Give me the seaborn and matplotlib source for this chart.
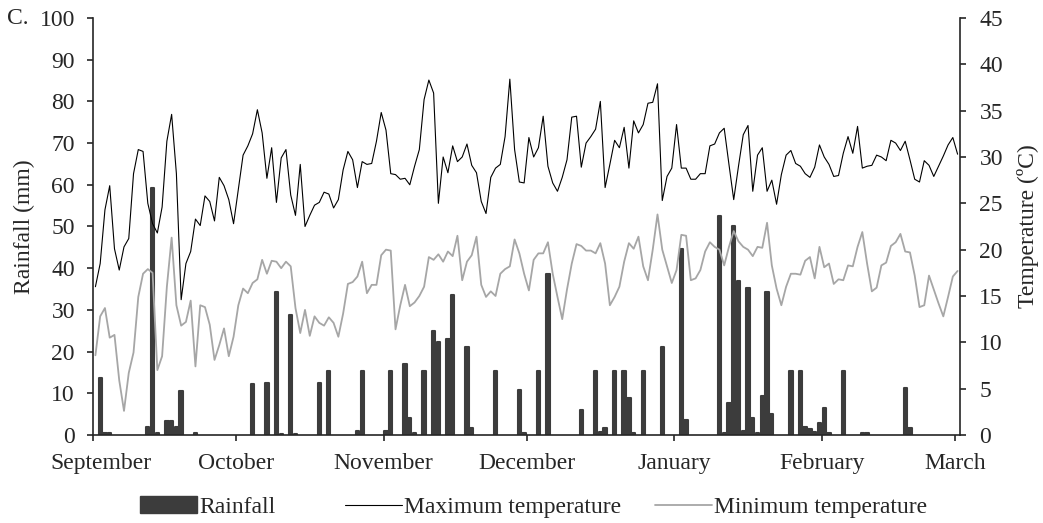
import numpy as np
import pandas as pd
import seaborn as sns
import matplotlib.pyplot as plt
import matplotlib.transforms as mtransforms
from matplotlib.patches import Patch
from matplotlib.lines import Line2D

# daily record, 1 September to 1 March
dates = pd.date_range("2018-09-01", "2019-03-01", freq="D")
month_labels = ["September", "October", "November", "December",
                "January", "February", "March"]

# maximum temperature (degC), read day by day
tmax = [16.0, 18.5, 24.3, 26.9, 20.1, 17.8, 20.3, 21.2, 28.2, 30.8,
        30.6, 25.0, 22.8, 21.8, 24.6, 31.7, 34.6, 28.2, 14.6, 18.5,
        19.8, 23.3, 22.6, 25.8, 25.2, 23.1, 27.8, 26.9, 25.4, 22.8,
        26.5, 30.2, 31.2, 32.5, 35.1, 32.6,
        27.7, 31.0, 25.1, 29.9, 30.8, 25.9, 23.7, 29.2, 22.5, 23.7,
        24.8, 25.1, 26.2, 26.0, 24.5, 25.4, 28.6, 30.6, 29.7, 26.7,
        29.5, 29.2, 29.3, 31.7, 34.8, 32.9, 28.2, 28.1, 27.6, 27.7,
        27.0, 29.0, 30.8, 36.2, 38.3, 36.9, 25.0,
        30.0, 28.3, 31.2, 29.5, 30.0, 31.4, 29.1, 28.3, 25.2, 23.9,
        27.8, 28.8, 29.2, 32.2, 38.4, 30.8, 27.3, 27.2, 32.1, 30.0,
        31.0, 34.4, 29.0, 27.2, 26.3, 27.8, 29.7, 34.3, 34.4, 28.9,
        31.5, 32.2, 33.0, 36.0, 26.7, 29.2,
        31.8, 31.0, 33.2, 28.8, 33.9, 32.6, 33.5, 35.8, 35.9, 37.9,
        25.3, 27.9, 28.8, 33.5, 28.8, 28.8, 27.6, 27.6, 28.2, 28.2,
        31.2, 31.4, 32.6, 33.1, 29.2, 25.4, 29.0, 32.4, 33.4, 26.3,
        30.2, 31.0, 26.3, 27.5, 24.9, 28.1, 30.2,
        30.7, 29.3, 29.0, 28.2, 27.8, 28.9, 31.3, 30.0, 29.2, 27.9,
        28.0, 30.4, 32.2, 30.4, 33.3, 28.8, 29.0, 29.1, 30.2, 30.0,
        29.6, 31.8, 31.5, 30.7, 31.7, 29.7, 27.6, 27.3, 29.6, 29.1,
        27.9, 29.0, 30.1, 31.3, 32.1, 30.3]

# minimum temperature (degC)
tmin = [8.6, 12.8, 13.7, 10.5, 10.8, 5.9, 2.6, 6.7, 8.9, 14.9,
        17.4, 17.9, 17.5, 7.0, 8.5, 16.0, 21.3, 14.0, 11.8, 12.2,
        14.5, 7.4, 14.0, 13.8, 11.9, 8.1, 9.7, 11.5, 8.5, 10.6,
        14.0, 15.8, 15.3, 16.4, 16.8, 18.9,
        17.4, 18.8, 18.7, 18.0, 18.7, 18.2, 13.7, 11.0, 13.5, 10.7,
        12.8, 12.1, 11.8, 12.7, 12.1, 10.6, 13.1, 16.3, 16.5, 17.1,
        18.7, 15.3, 16.2, 16.2, 19.4, 20.0, 19.9, 11.4, 14.0, 16.2,
        13.9, 14.3, 15.0, 16.0, 19.2, 18.9, 19.5,
        18.7, 19.8, 19.3, 21.5, 16.7, 18.7, 19.4, 21.4, 16.2, 14.9,
        15.5, 15.0, 17.4, 17.9, 18.2, 21.1, 19.6, 17.4, 15.6, 18.9,
        19.6, 19.6, 20.8, 17.4, 14.9, 12.5, 15.7, 18.5, 20.6, 20.4,
        19.9, 19.9, 19.6, 20.7, 18.5, 14.0,
        14.9, 16.0, 18.7, 20.7, 20.1, 21.4, 18.2, 16.7, 20.0, 23.8,
        20.0, 18.2, 16.4, 17.8, 21.6, 21.5, 16.7, 16.9, 17.8, 19.8,
        20.8, 20.3, 20.0, 18.3, 20.3, 22.0, 20.9, 20.3, 20.0, 19.3,
        20.3, 20.2, 22.9, 18.3, 15.8, 14.0, 16.0,
        17.4, 17.4, 17.3, 18.8, 19.2, 16.9, 20.3, 18.1, 18.5, 16.3,
        16.8, 16.7, 18.3, 18.2, 20.3, 21.9, 18.5, 15.5, 15.9, 18.3,
        18.6, 20.4, 20.8, 21.7, 19.8, 19.7, 17.2, 13.8, 14.0, 17.2,
        15.7, 14.2, 12.8, 14.9, 17.1, 17.7]

# rainy days (index from 1 September) and rainfall (mm)
rain_day = [1, 2, 3, 11, 12, 13, 15, 16, 17, 18, 21,
            33, 36, 38, 39, 41, 42, 47, 49, 55, 56,
            61, 62, 65, 66, 67, 69, 71, 72, 74, 75, 78, 79,
            84, 89, 90, 93, 95, 102, 105, 106, 107, 109, 111, 112, 113, 115, 119,
            123, 124, 131, 132, 133, 134, 135, 136, 137, 138, 139, 140, 141, 142,
            146, 148, 149, 150, 151, 152, 153, 154, 157, 161, 162, 170, 171]
rain_mm = [13.6, 0.4, 0.4, 1.8, 59.3, 0.4, 3.3, 3.4, 1.8, 10.5, 0.4,
           12.3, 12.4, 34.4, 0.3, 28.8, 0.3, 12.4, 15.4, 1.0, 15.4,
           1.0, 15.4, 17.0, 4.0, 0.4, 15.4, 25.0, 22.4, 22.9, 33.6, 21.2, 1.6,
           15.4, 10.8, 0.5, 15.4, 38.6, 6.1, 15.4, 0.8, 1.6, 15.4, 15.4, 8.8, 0.5, 15.4, 21.0,
           44.5, 3.6, 52.5, 0.5, 7.6, 50.2, 37.0, 1.0, 35.2, 4.0, 0.5, 9.4, 34.4, 5.0,
           15.4, 15.4, 2.0, 1.4, 0.8, 2.9, 6.4, 0.5, 15.4, 0.5, 0.5, 11.2, 1.6]

days = np.arange(len(dates))
month_start = days[dates.day == 1]

sns.set_style("ticks")
plt.rcParams["font.family"] = ["Liberation Serif", "DejaVu Serif"]
plt.rcParams["font.size"] = 17

bar_col = "#3c3c3c"
min_col = "#a6a6a6"

fig = plt.figure(figsize=(10.43, 5.23), dpi=100)
ax = fig.add_axes([0.0892, 0.1683, 0.8312, 0.7973])

# rainfall bars, left axis
sns.barplot(x=rain_day, y=rain_mm, native_scale=True, color=bar_col,
            saturation=1, width=0.7, linewidth=1.5, edgecolor=bar_col,
            errorbar=None, ax=ax)
for p in ax.patches:
    p.set_joinstyle("round")

# temperatures, right axis
ax2 = ax.twinx()
sns.lineplot(x=days, y=tmax, color="black", linewidth=0.8, ax=ax2)
sns.lineplot(x=days, y=tmin, color=min_col, linewidth=1.3, ax=ax2)

ax.set_xlim(-0.5, 181.5)
ax.set_xticks(month_start - 0.5)
ax.set_xticklabels(month_labels)
ax.set_ylim(0, 100)
ax.set_yticks(range(0, 101, 10))
ax2.set_ylim(0, 45)
ax2.set_yticks(range(0, 46, 5))

for s in ["top", "right"]:
    ax.spines[s].set_visible(False)
for s in ["top", "left", "bottom"]:
    ax2.spines[s].set_visible(False)
for s in ["left", "bottom"]:
    ax.spines[s].set_linewidth(1.2)
ax2.spines["right"].set_linewidth(1.2)

ax.tick_params(axis="y", length=4, width=1.2, pad=9)
ax.tick_params(axis="x", length=4, width=1.2, pad=9)
ax2.tick_params(axis="y", length=4, width=1.2, pad=10)

# first month label sits a little right of its tick in the original
sept = ax.get_xticklabels()[0]
sept.set_transform(sept.get_transform() +
                   mtransforms.ScaledTranslation(8 / 100, 0, fig.dpi_scale_trans))

ax.set_xlabel("")
ax2.set_xlabel("")
ax.set_ylabel("Rainfall (mm)")
ax.yaxis.set_label_coords(-0.067, 0.5)
ax2.set_ylabel("Temperature (\u00baC)")
ax2.yaxis.set_label_coords(1.066, 0.5)

fig.text(0.007, 1 - 18 / 523, "C.", ha="left", va="center", fontsize=17)

# legend entries placed one by one, as in the original
entries = [(Patch(facecolor=bar_col, edgecolor=bar_col), "Rainfall", 140),
           (Line2D([], [], color="black", linewidth=0.8), "Maximum temperature", 345),
           (Line2D([], [], color=min_col, linewidth=1.3), "Minimum temperature", 655)]
for handle, text, x0 in entries:
    fig.legend([handle], [text], loc="center left",
               bbox_to_anchor=(x0 / 1043, 1 - 507 / 523),
               frameon=False, handlelength=2.4, handletextpad=0.1,
               borderpad=0, borderaxespad=0, fontsize=17)

fig.savefig("out.png", dpi=100)
